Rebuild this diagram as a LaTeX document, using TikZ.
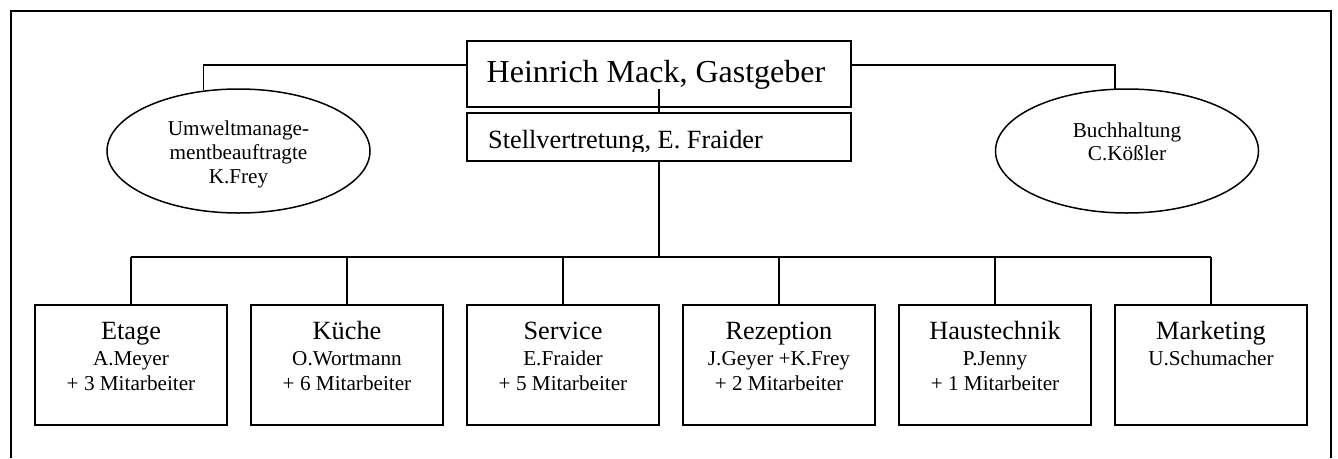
\documentclass[tikz,border=0pt]{standalone}
\usepackage{fontspec}
\setmainfont{Liberation Serif}
\usetikzlibrary{shapes.geometric}
\begin{document}
\begin{tikzpicture}[x=1pt,y=-1pt,
  ln/.style={line width=1.8pt},
  orgbox/.style={draw,line width=1.8pt,fill=white,inner sep=0pt,minimum width=192pt,minimum height=120pt},
  topbox/.style={draw,line width=1.8pt,fill=white,inner sep=0pt,minimum width=384pt},
  oval/.style={draw,ellipse,line width=1.5pt,inner sep=0pt,minimum width=263pt,minimum height=124pt},
  big/.style={font=\fontsize{32}{38}\selectfont,inner sep=0pt,anchor=base},
  mid/.style={font=\fontsize{26.3}{31}\selectfont,inner sep=0pt,anchor=base},
  small/.style={font=\fontsize{21.2}{25}\selectfont,inner sep=0pt,anchor=base}]
\useasboundingbox (0,0) rectangle (1338,458);
% frame
\draw[line width=1.6pt] (11,458) -- (11,11) -- (1331,11) -- (1331,458);
% top boxes
\node[topbox,minimum height=66pt] (H) at (659,74) {};
\node[big] (Ht) at (656,82) {Heinrich Mack, Gastgeber};
\node[topbox,minimum height=48pt] (S) at (659,137) {};
\begin{scope}
\clip (467,113) rectangle (851,151);
\node[mid,anchor=base west] (St) at (488,148) {Stellvertretung, E. Fraider};
\end{scope}
\coordinate (Hc) at (659,89);
\draw[ln] (Hc) -- (S.north);
% ellipses
\node[oval] (L) at (238.5,151) {};
\node[small] (L1) at (238.5,135) {Umweltmanage-};
\node[small] (L2) at (238.5,159) {mentbeauftragte};
\node[small] (L3) at (238.5,183) {K.Frey};
\node[oval] (R) at (1127,151) {};
\node[small] (R1) at (1127,137) {Buchhaltung};
\node[small] (R2) at (1127,160) {C.Kößler};
\draw[ln] (H.west |- 0,65) -| (L.120.7);
\draw[ln] (H.east |- 0,65) -| (R.101);
% department boxes
\node[orgbox] (E) at (131,365) {};
\node[orgbox] (K) at (347,365) {};
\node[orgbox] (Se) at (563,365) {};
\node[orgbox] (Re) at (779,365) {};
\node[orgbox] (Ha) at (995,365) {};
\node[orgbox] (M) at (1211,365) {};
\foreach \n/\t/\a/\b in {E/Etage/A.Meyer/+ 3 Mitarbeiter,K/Küche/O.Wortmann/+ 6 Mitarbeiter,Se/Service/E.Fraider/+ 5 Mitarbeiter,Re/Rezeption/J.Geyer +K.Frey/+ 2 Mitarbeiter,Ha/Haustechnik/P.Jenny/+ 1 Mitarbeiter}{
  \node[mid] (\n t) at ([yshift=-35pt]\n.north) {\t};
  \node[small] (\n a) at ([yshift=-61pt]\n.north) {\a};
  \node[small] (\n b) at ([yshift=-86pt]\n.north) {\b};
}
\node[mid] (Mt) at ([yshift=-35pt]M.north) {Marketing};
\node[small] (Ma) at ([yshift=-61pt]M.north) {U.Schumacher};
% connectors
\draw[ln] (S.south) -- (S.south |- 0,257);
\draw[ln] (E.north |- 0,257) -- (M.north |- 0,257);
\foreach \n in {E,K,Se,Re,Ha,M}{
  \draw[ln] (\n.north) -- (\n.north |- 0,257);
}
\end{tikzpicture}
\end{document}
